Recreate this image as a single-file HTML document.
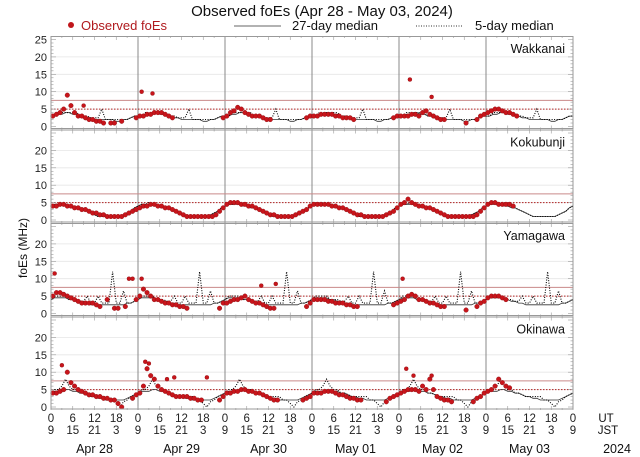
<!DOCTYPE html>
<html><head><meta charset="utf-8">
<style>
body{margin:0;background:#fff;}
svg{display:block;font-family:"Liberation Sans","DejaVu Sans",sans-serif;}
</style></head>
<body>
<svg id="chart" width="640" height="457" viewBox="0 0 640 457" xmlns="http://www.w3.org/2000/svg">
<text x="322" y="16" font-size="15" text-anchor="middle" fill="#111">Observed foEs (Apr 28 - May 03, 2024)</text>
<g>
<circle cx="71" cy="25" r="3" fill="#c0161b"/>
<text x="81" y="30" font-size="13" fill="#b01a1e">Observed foEs</text>
<line x1="234" y1="26" x2="281" y2="26" stroke="#333" stroke-width="0.8"/>
<text x="292" y="30" font-size="13" fill="#111">27-day median</text>
<line x1="416" y1="26" x2="463" y2="26" stroke="#333" stroke-width="1" stroke-dasharray="1,1.5"/>
<text x="475" y="30" font-size="13" fill="#111">5-day median</text>
</g>
<text transform="translate(27,248) rotate(-90)" font-size="12" text-anchor="middle" fill="#111">foEs (MHz)</text>
<g id="panels"></g>
<g id="xaxis"></g>
</svg>
<script>
const stations = ["Wakkanai","Kokubunji","Yamagawa","Okinawa"];
const days = ["Apr 28","Apr 29","Apr 30","May 01","May 02","May 03"];
const utTicks = ["0","6","12","18"];
const jstTicks = ["9","15","21","3"];
const yTicks = [0,5,10,15,20,25];
const N = null;
const obsWakkanai = [
3,3.5,4,5,9,6,4,3,3,2.5,2,2,1.5,1.5,1,N,1,1,N,1.5,N,N,N,2.5,
3,3,3.5,3.5,4,4,4,3.5,3,2.5,N,N,N,N,N,N,N,N,N,N,N,N,N,2.5,
3,4,4.5,5.5,5,4,3.5,3,3,3,2.5,2,2,N,N,N,N,N,N,N,N,N,2.5,3,
3,3,3.5,3.5,3.5,3.5,3,3,2.5,2.5,2.5,2,N,N,N,N,N,N,N,N,N,N,2.5,3,
3,3,3,3.5,3.5,3,4,4.5,3.5,3,2.5,2,2,N,N,N,N,N,1,N,N,2,3,3.5,
4,4.5,5,5,4.5,4,4,3.5,3,N,N,N,N,N,N,N,N,N,N,N,N,N,N,N];
const obsKokubunji = [
4,4,4.5,4.5,4,4,3.5,3.5,3,3,2.5,2,2,1.5,1.5,1,1,1,1,1,1.5,2,2.5,3,
3.5,4,4,4.5,4.5,4,4,3.5,3.5,3,2.5,2,1.5,1,1,1,1,1,1,1,1,1.5,2.5,3.5,
4.5,5,5,5,4.5,4.5,4,4,3.5,3,2.5,2,1.5,1.5,1,1,1,1,1,1.5,2,2.5,3,4,
4.5,4.5,4.5,4.5,4.5,4,4,3.5,3.5,3,2.5,2,1.5,1.5,1,1,1,1,1,1,1.5,2,2.5,3.5,
4.5,5,6,5,4.5,4,4,3.5,3.5,3,2.5,2,1.5,1,1,1,1,1,1,1,1,1.5,2.5,3.5,
4.5,5,5,4.5,4.5,4.5,4.5,4,N,N,N,N,N,N,N,N,N,N,N,N,N,N,N,N];
const obsYamagawa = [
5,6,6,5.5,5,4.5,4,3.5,3,3,3,3,2.5,2,N,4,N,1.5,1.5,N,2,N,N,4,
5,7,6,5,4,4,3.5,3,3,2.5,2.5,2,2,1.5,N,N,N,N,N,N,N,N,1.5,3,
3,3.5,4,4,4.5,5,4,3.5,3,3,2.5,2,1.5,1.5,N,N,N,N,N,N,N,N,2,3,
4,4,4,4,3.5,3.5,3,3,3,2.5,2.5,2,2,N,N,N,N,N,N,N,N,N,2.5,3,
3.5,4,5,5.5,5,4,4,3.5,3,3,2.5,2,2,N,N,N,N,N,1,N,N,2,3,3.5,
4.5,5,5,5,4.5,4,N,N,N,N,N,N,N,N,N,N,N,N,N,N,N,N,N,N];
const obsOkinawa = [
4,4,4.5,5,10,7,6,5,4.5,4,3.5,3.5,3,3,2.5,2.5,2,2,1,0,N,N,2.5,3.5,
4,6,11,9,8,6,5,4.5,4,3.5,3,3,3,3,2.5,2.5,2,2,N,N,N,N,2,3,
4,4,4.5,4.5,5,5,4.5,4.5,4,4,3.5,3,2.5,2,2,N,N,N,N,N,N,2,2.5,3,
4,4,4,4.5,4.5,4.5,4,3.5,3.5,3,2.5,2.5,2,2,N,N,N,N,N,N,1.5,2.5,3,3.5,
4,4.5,5,5,5,4.5,6,5,8,5,3,2.5,2,2,1.5,N,N,N,N,N,1.5,2.5,3,4,
4.5,5,6,8,7,6,5.5,N,N,N,N,N,N,N,N,N,N,N,N,N,N,N,N,N];
const extraHours = [[25,28,9,99,105],[],[1,21.5,22.5,25,58,62,97],[3,26,27,32,34,43,98,100,105]];
const extraValues = [[10,9.5,6,13.5,8.5],[],[11.5,10,10,10,8,8.5,10],[12,13,12.5,8,8.5,8.5,11,9,9]];
const med27 = [
[3,3,3.5,3.5,4,4,3.5,3.5,3,3,2.5,2.5,2,2,2,2,2,2,1.5,1.5,2,2,2.5,3],
[4,4.5,4.5,4.5,4.5,4,4,3.5,3.5,3,2.5,2,1.5,1,1,1,1,1,1,1,1.5,2,2.5,3.5],
[4,4.5,4.5,4.5,4.5,4,4,3.5,3.5,3,3,2.5,2.5,2.5,2.5,2.5,2.5,2.5,2.5,2.5,2.5,3,3,3.5],
[4,4.5,4.5,4.5,5,5,4.5,4.5,4,4,3.5,3,3,2.5,2.5,2,2,2,2,2,2,2.5,3,3.5]];
const med5 = [
[3,3,4,4,4,4,4,4,3,3,3,2.5,2.5,2.5,5,2,2,2,2,2,2,2,2.5,3],
[4,4.5,4.5,5,4.5,4.5,4,4,3.5,3,2.5,2,1.5,1,1,1,1,1,1,1,1.5,2,2.5,3.5],
[4,5,5,5,5,4,4,4,3.5,3.5,5,3,3,5,3,3,3,12,3,3,6.5,3,3,3.5],
[4,5,5,6,8,6,5,5,4,4,3.5,3,3,3,3,3,2,2,1,0,1.5,2,3,3.5]];
const obsAll = [obsWakkanai,obsKokubunji,obsYamagawa,obsOkinawa];

const NS="http://www.w3.org/2000/svg";
const X0=51, X1=573, TOP=36, PH=93.5;
const xs = h => X0 + (X1-X0)*h/144;
const ysFor = p => v => TOP + p*PH + PH - 3 - v*3.48;
function mk(tag, attrs, parent){const e=document.createElementNS(NS,tag);for(const k in attrs)e.setAttribute(k,attrs[k]);parent.appendChild(e);return e;}
const panels=document.getElementById('panels');
stations.forEach((st,p)=>{
  const ys=ysFor(p); const top=TOP+p*PH, bot=top+PH;
  const g=mk('g',{},panels);
  
  
  [5,10,15,20].forEach(v=>{const l=mk('line',{x1:X0,x2:X1,y1:ys(v),y2:ys(v),stroke:'#e6e6e6','stroke-width':0.8},g);
     });
  for(let d=1;d<6;d++){const l=mk('line',{x1:xs(d*24),x2:xs(d*24),y1:top,y2:bot,stroke:'#888','stroke-width':1},g);
     }
  const r1=mk('line',{x1:X0,x2:X1,y1:ys(7.5),y2:ys(7.5),stroke:'#c98a8a','stroke-width':1},g);
   
  const r2=mk('line',{x1:X0,x2:X1,y1:ys(5),y2:ys(5),stroke:'#b02020','stroke-width':1,'stroke-dasharray':'1.5,1.5'},g);
   
  // ticks
  for(let v=0;v<=25;v++){
    const len = v%5===0?5:2.5;
    if(ys(v)<top+0.5) continue;
    mk('line',{x1:X0,x2:X0+len,y1:ys(v),y2:ys(v),stroke:'#999','stroke-width':0.6},g);
    mk('line',{x1:X1,x2:X1-len,y1:ys(v),y2:ys(v),stroke:'#999','stroke-width':0.6},g);
  }
  for(let h=0;h<=144;h+=3){
    const len=h%6===0?4:2;
    mk('line',{x1:xs(h),x2:xs(h),y1:top,y2:top+len,stroke:'#999','stroke-width':0.6},g);
    mk('line',{x1:xs(h),x2:xs(h),y1:bot,y2:bot-len,stroke:'#999','stroke-width':0.6},g);
  }
  yTicks.forEach(v=>{ if(p>0 && v===25) return;
    const t=mk('text',{x:X0-4,y:ys(v)+4,'font-size':11,'text-anchor':'end',fill:'#222'},g); t.textContent=v;
     });
  // medians
  let d27='', d5='';
  for(let h=0;h<=144;h++){const i=h%24; d27+=(h?'L':'M')+xs(h).toFixed(1)+','+ys(med27[p][i]).toFixed(1);
    d5+=(h?'L':'M')+xs(h).toFixed(1)+','+ys(med5[p][i]).toFixed(1);}
  const m1=mk('path',{d:d27,fill:'none',stroke:'#333','stroke-width':0.8},g);
   
  const m2=mk('path',{d:d5,fill:'none',stroke:'#000','stroke-width':1.1,'stroke-dasharray':'1,1.5'},g);
   
  const og=mk('g',{fill:'#c8151b',stroke:'#8a0d10','stroke-width':0.4},g);
   
  obsAll[p].forEach((v,h)=>{ if(v===null) return;
    const c=mk('circle',{cx:xs(h+0.5),cy:ys(v),r:2.3},og);
     });
  extraHours[p].forEach((h,i)=>{
    const c=mk('circle',{cx:xs(h),cy:ys(extraValues[p][i]),r:2},og);
     });
  const fr=mk('rect',{x:X0,y:top+0.5,width:X1-X0,height:PH-1.5,fill:'none',stroke:'#999','stroke-width':1},g);
   
  const lb=mk('text',{x:X1-8,y:top+17,'font-size':12.5,'text-anchor':'end',fill:'#111'},g); lb.textContent=st;
   
});
const xa=document.getElementById('xaxis');
for(let h=0;h<=144;h+=6){
  const i=(h/6)%4;
  const t1=mk('text',{x:xs(h),y:422,'font-size':11.5,'text-anchor':'middle',fill:'#222'},xa); t1.textContent=utTicks[i];
   
  const t2=mk('text',{x:xs(h),y:434,'font-size':11.5,'text-anchor':'middle',fill:'#222'},xa); t2.textContent=jstTicks[i];
   
}
days.forEach((d,i)=>{const t=mk('text',{x:xs(i*24+12),y:453,'font-size':12.5,'text-anchor':'middle',fill:'#111'},xa); t.textContent=d;
   });
[['UT',606,422],['JST',608,434],['2024',617,453]].forEach(a=>{const t=mk('text',{x:a[1],y:a[2],'font-size':a[0]==='2024'?12.5:11.5,'text-anchor':'middle',fill:'#111'},xa); t.textContent=a[0];
   });
</script>
</body></html>
